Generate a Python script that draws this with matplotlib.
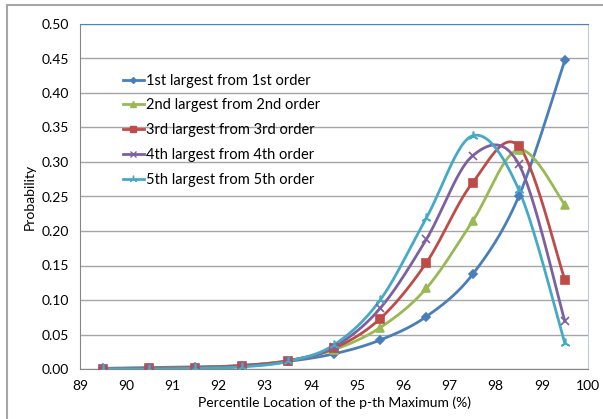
import matplotlib
matplotlib.use("Agg")
import matplotlib.pyplot as plt
import numpy as np

plt.rcParams['font.family'] = ['Lato', 'DejaVu Sans']

# data
x = [89.5, 90.5, 91.5, 92.5, 93.5, 94.5, 95.5, 96.5, 97.5, 98.5, 99.5]
s1 = [0.001, 0.002, 0.003, 0.005, 0.011, 0.022, 0.042, 0.076, 0.137, 0.250, 0.448]
s2 = [0.000, 0.001, 0.002, 0.005, 0.012, 0.028, 0.060, 0.117, 0.214, 0.318, 0.238]
s3 = [0.000, 0.001, 0.002, 0.005, 0.012, 0.030, 0.073, 0.154, 0.270, 0.323, 0.129]
s4 = [0.000, 0.000, 0.001, 0.004, 0.011, 0.032, 0.088, 0.188, 0.309, 0.297, 0.069]
s5 = [0.000, 0.000, 0.001, 0.003, 0.011, 0.035, 0.100, 0.219, 0.338, 0.260, 0.037]
labels = ['1st largest from 1st order', '2nd largest from 2nd order',
          '3rd largest from 3rd order', '4th largest from 4th order',
          '5th largest from 5th order']
series = [s1, s2, s3, s4, s5]
colors = ['#4a7ebb', '#98b954', '#be4b48', '#7d60a0', '#46aac5']
markers = ['D', '^', 's', 'x', (3, 2, 0)]
msizes = [4.5, 6, 6, 6, 7]


def smooth(xs, ys, n=30):
    # Excel-like smoothed line: cubic bezier, control points from neighbours
    p = np.column_stack([xs, ys]).astype(float)
    out = []
    for i in range(len(p) - 1):
        p0 = p[i - 1] if i > 0 else p[i]
        p1, p2 = p[i], p[i + 1]
        p3 = p[i + 2] if i + 2 < len(p) else p[i + 1]
        c1 = p1 + (p2 - p0) / 6
        c2 = p2 - (p3 - p1) / 6
        t = np.linspace(0, 1, n)[:, None]
        seg = ((1 - t) ** 3) * p1 + 3 * ((1 - t) ** 2) * t * c1 + 3 * (1 - t) * t ** 2 * c2 + t ** 3 * p2
        out.append(seg if i == 0 else seg[1:])
    out = np.vstack(out)
    return out[:, 0], out[:, 1]


fig = plt.figure(figsize=(6.03, 4.19), dpi=100)
ax = fig.add_axes([80 / 603, 1 - 369 / 419, 508 / 603, 345 / 419])

for ys, lab, c, m, ms in zip(series, labels, colors, markers, msizes):
    sx, sy = smooth(x, ys)
    ax.plot(sx, sy, color=c, lw=2, zorder=3)
    ax.plot(x, ys, linestyle='none', marker=m, color=c, markersize=ms,
            markeredgewidth=1.2, zorder=4)
    ax.plot([], [], color=c, lw=2, marker=m, markersize=ms - 1.5, label=lab)

ax.set_xlim(89, 100)
ax.set_ylim(0, 0.5)
ax.set_xticks(range(89, 101))
ax.set_yticks(np.arange(0, 0.501, 0.05))
ax.set_yticklabels(['%.2f' % v for v in np.arange(0, 0.501, 0.05)])
ax.tick_params(length=0, labelsize=10, pad=8)
ax.grid(axis='y', color='#a6a6a6', lw=1)
ax.set_axisbelow(True)
for s in ['left', 'bottom']:
    ax.spines[s].set_color('#868686')
ax.spines['top'].set_color('#4f81bd')
ax.spines['right'].set_color('#b9cde5')

ax.set_xlabel('Percentile Location of the p-th Maximum (%)', fontsize=10, labelpad=3)
ax.set_ylabel('Probability', fontsize=10, labelpad=4)

leg = ax.legend(loc='upper left', bbox_to_anchor=(0.085, 0.856), frameon=False,
                borderpad=0, borderaxespad=0,
                fontsize=10.5, handlelength=1.4, handletextpad=0.15, labelspacing=0.74)

# outer chart frame
fig.patches.append(plt.Rectangle((7 / 603, -0.1), 1.1, (419 - 5) / 419 + 0.1,
                                 transform=fig.transFigure, fill=False,
                                 edgecolor='#a6a6a6', lw=1.5))

fig.savefig('out.png', dpi=100)
